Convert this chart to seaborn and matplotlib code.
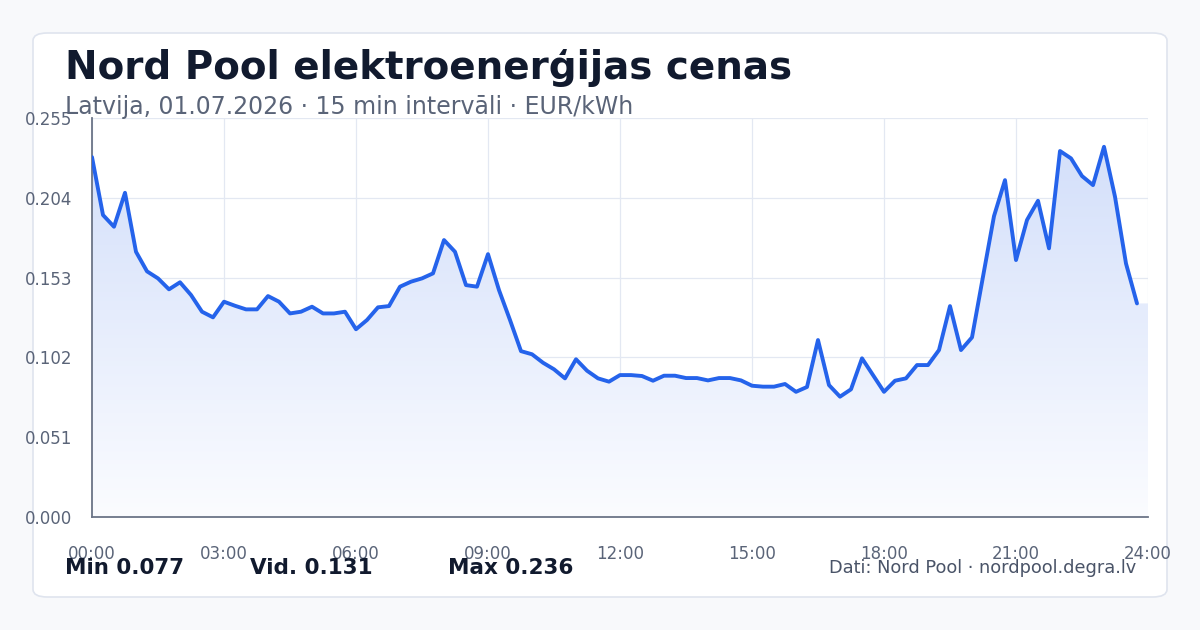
import numpy as np
import pandas as pd
import matplotlib
matplotlib.use("Agg")
import matplotlib.pyplot as plt
import seaborn as sns
from matplotlib.patches import FancyBboxPatch

prices = [0.230, 0.193, 0.1855, 0.2072, 0.1695, 0.157, 0.1525, 0.1455, 0.150, 0.1419, 0.1312, 0.1276,
          0.1376, 0.135, 0.1327, 0.1327, 0.1412, 0.1376, 0.1301, 0.1312, 0.1344, 0.1301, 0.1301, 0.1312,
          0.120, 0.1259, 0.134, 0.1348, 0.1472, 0.1504, 0.1525, 0.1557, 0.177, 0.1695, 0.1482, 0.1472,
          0.168, 0.145, 0.1259, 0.106, 0.104, 0.0986, 0.0944, 0.0886, 0.1008, 0.0935, 0.0886, 0.0865,
          0.0907, 0.0907, 0.0901, 0.0871, 0.0903, 0.0903, 0.0888, 0.0888, 0.0873, 0.0888, 0.0888, 0.0873,
          0.0839, 0.0833, 0.0833, 0.085, 0.080, 0.0831, 0.1131, 0.0843, 0.0769, 0.0816, 0.1014, 0.0907,
          0.080, 0.0871, 0.0886, 0.0971, 0.0971, 0.1067, 0.1348, 0.1067, 0.1148, 0.1536, 0.1923, 0.2153,
          0.1642, 0.1898, 0.2021, 0.1717, 0.2339, 0.2292, 0.2179, 0.2121, 0.2366, 0.2047, 0.162, 0.1365]
hours = [i * 0.25 for i in range(len(prices))]
y_ticks = [0.000, 0.051, 0.102, 0.153, 0.204, 0.255]
x_ticks = [0, 3, 6, 9, 12, 15, 18, 21, 24]
x_labels = ["00:00", "03:00", "06:00", "09:00", "12:00", "15:00", "18:00", "21:00", "24:00"]
title = "Nord Pool elektroenerģijas cenas"
subtitle = "Latvija, 01.07.2026 · 15 min intervāli · EUR/kWh"
stats = ["Min 0.077", "Vid. 0.131", "Max 0.236"]
source = "Dati: Nord Pool · nordpool.degra.lv"

sns.set_theme(style="white")
plt.rcParams['font.family'] = ['DejaVu Sans']
df = pd.DataFrame({"h": hours, "p": prices})

fig = plt.figure(figsize=(12, 6.3), dpi=100)
fig.patch.set_facecolor("#f8f9fb")
card = FancyBboxPatch((33/1200, 33/630), 1134/1200, 564/630, boxstyle="round,pad=0,rounding_size=0.012",
                      transform=fig.transFigure, facecolor="white", edgecolor="#dfe4ee", lw=1.2, zorder=-10)
fig.patches.append(card)

ax = fig.add_axes([92/1200, 1-517/630, 1056/1200, 399/630])
ax.set_facecolor("none")
blue = "#2563eb"
xs = list(hours) + [24]
ys = list(prices) + [prices[-1]]
poly = ax.fill_between(xs, ys, 0, color="none", lw=0)
cmap = matplotlib.colors.LinearSegmentedColormap.from_list("g", ["#fbfcff", "#d3dffa"])
im = ax.imshow(np.linspace(1, 0, 256).reshape(-1, 1), extent=[0, 24, 0, 0.24], aspect="auto",
               origin="upper", cmap=cmap, vmin=0, vmax=1, zorder=1)
im.set_clip_path(poly.get_paths()[0], transform=ax.transData)
sns.lineplot(data=df, x="h", y="p", ax=ax, color=blue, lw=2.8, zorder=3)

ax.set_xlim(0, 24)
ax.set_ylim(0, 0.255)
ax.set_xticks(x_ticks)
ax.set_xticklabels(x_labels)
ax.set_yticks(y_ticks)
ax.set_yticklabels([f"{v:.3f}" for v in y_ticks])
ax.grid(True, color="#e3e8f2", lw=0.9)
ax.set_axisbelow(True)
ax.set_xlabel("")
ax.set_ylabel("")
for s in ["top", "right"]:
    ax.spines[s].set_visible(False)
for s in ["left", "bottom"]:
    ax.spines[s].set_color("#6b7487")
    ax.spines[s].set_linewidth(1.3)
ax.tick_params(axis="both", colors="#5a6478", labelsize=12, length=0)
ax.tick_params(axis="x", pad=20)
ax.tick_params(axis="y", pad=14)

fig.text(65/1200, 1-68/630, title, fontsize=28, fontweight="bold", color="#111a2e", va="center")
fig.text(65/1200, 1-107/630, subtitle, fontsize=17, color="#5a6478", va="center")
for x, s in zip([65, 250, 448], stats):
    fig.text(x/1200, 1-568/630, s, fontsize=15.5, fontweight="bold", color="#111a2e", va="center")
fig.text(1136/1200, 1-568/630, source, fontsize=12.8, color="#4a5468", va="center", ha="right")

fig.savefig("out.png", dpi=100, facecolor=fig.get_facecolor())
